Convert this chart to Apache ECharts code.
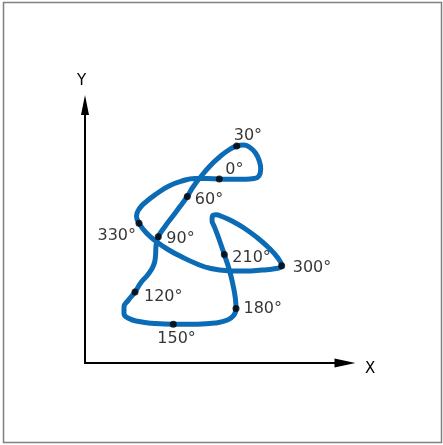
<!DOCTYPE html>
<html>
<head>
<meta charset="utf-8">
<script src="https://cdn.jsdelivr.net/npm/echarts@6/dist/echarts.min.js"></script>
<style>
  html, body { margin: 0; padding: 0; background: #fff; }
  #chart { width: 443px; height: 445px; }
</style>
</head>
<body>
<div id="chart"></div>
<script>
// Traced closed curve (x, y in axis units; origin at axis corner)
const curveX = [134.3,147,160,169,174,175.7,174.3,170.5,165,158.5,151.7,143,134,125,116,108,102.3,95,87.5,80,73.3,71,70.5,68.5,63,56,50,43.5,39,39,44,54,67,88.3,111,130,142.5,149,151,150.3,148,144.5,139.3,134,129.5,127,127.5,131,137,147,159,172,184,192.5,196.7,191,177,160,143,126,111,96,83,72,62,54,51.5,54.5,62,72,84,97,110,122,134.3];
const curveY = [184,183.7,183.8,184.5,187,194,202,210,215.5,218,217,212.5,205.5,197,186.5,176,166.5,156.5,146.5,136.5,126.3,117,107,97.5,88.5,80.5,71,63,56,49.5,44.5,41.5,39.7,38.7,38.8,40,43,48,54.5,65,78,92.5,108.5,124,136,143,147,148.2,146.5,142,135,125.5,115,105.5,97.3,94.5,93,92,92.3,94.5,99.5,106.5,113.5,121,129.5,139.7,147,154.5,162,169.5,177,182,184.4,184.4,184];

// Labelled angle points
const angleLabels = ['0°','30°','60°','90°','120°','150°','180°','210°','300°','330°'];
const angleX = [134.3,151.7,102.3,73.3,50,88.3,151,139.3,196.7,54];
const angleY = [184,217,166.5,126.3,71,38.7,54.5,108.5,97.3,139.7];

const xName = 'X';
const yName = 'Y';

// label placement (style only)
const labelPlace = {
  '0°':   {position: 'right', offset: [-2.5, -9]},
  '30°':  {position: 'right', offset: [-11.5, -10]},
  '60°':  {position: 'right', offset: [-1, 3]},
  '90°':  {position: 'right', offset: [-0.5, 2]},
  '120°': {position: 'right', offset: [0.5, 4.5]},
  '150°': {position: 'right', offset: [-24.5, 15]},
  '180°': {position: 'right', offset: [-1, 0.5]},
  '210°': {position: 'right', offset: [-0.5, 3]},
  '300°': {position: 'right', offset: [2.5, 2]},
  '330°': {position: 'left',  offset: [5.5, 13]}
};

const curveData = curveX.map((x, i) => [x, curveY[i]]);
const pointData = angleLabels.map((name, i) => ({
  name: name,
  value: [angleX[i], angleY[i]],
  label: Object.assign({show: true, formatter: name}, labelPlace[name])
}));

const chart = echarts.init(document.getElementById('chart'), null, {renderer: 'canvas'});
const FONT = 'DejaVu Sans';
chart.setOption({
  animation: false,
  backgroundColor: '#fff',
  graphic: [{
    type: 'rect',
    shape: {x: 3.5, y: 2.5, width: 438, height: 440},
    style: {fill: 'none', stroke: '#808080', lineWidth: 1.5},
    z: 100
  }],
  grid: {left: 85, right: 98, top: 105, bottom: 82},
  xAxis: {
    type: 'value', min: 0, max: 260,
    name: xName, nameLocation: 'end', nameGap: 20,
    nameTextStyle: {fontFamily: FONT, fontSize: 15, color: '#000', verticalAlign: 'top', padding: [-1, 0, 0, 0]},
    axisLine: {show: true, onZero: false, symbol: ['none', 'triangle'], symbolSize: [9, 21],
      lineStyle: {color: '#000', width: 2}},
    axisTick: {show: false}, axisLabel: {show: false}, splitLine: {show: false}
  },
  yAxis: {
    type: 'value', min: 0, max: 258,
    name: yName, nameLocation: 'end', nameGap: 16,
    nameTextStyle: {fontFamily: FONT, fontSize: 15, color: '#000', padding: [0, 7, 0, 0]},
    axisLine: {show: true, onZero: false, symbol: ['none', 'triangle'], symbolSize: [8, 20],
      lineStyle: {color: '#000', width: 2}},
    axisTick: {show: false}, axisLabel: {show: false}, splitLine: {show: false}
  },
  series: [
    {
      type: 'line',
      data: curveData,
      smooth: 0.5,
      showSymbol: false,
      lineStyle: {color: '#0b6bb5', width: 5, cap: 'round', join: 'round'},
      z: 2
    },
    {
      type: 'scatter',
      data: pointData,
      symbol: 'circle',
      symbolSize: 7,
      itemStyle: {color: '#000'},
      label: {fontFamily: FONT, fontSize: 16, color: '#000'},
      z: 3
    }
  ]
});
</script>
</body>
</html>
